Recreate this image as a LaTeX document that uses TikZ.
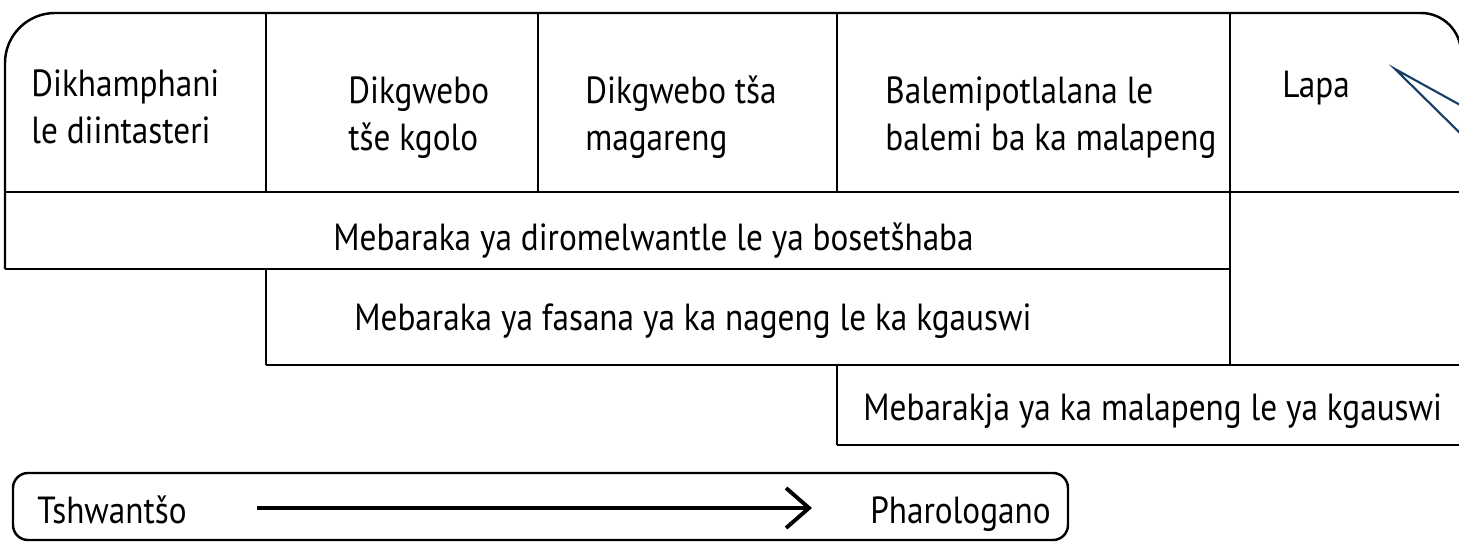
\documentclass[tikz,border=0pt]{standalone}
\usepackage{fontspec}
\setmainfont[FakeStretch=0.88]{PT Sans}
\usepackage{tikz}
\usetikzlibrary{arrows.meta}
\definecolor{pointerblue}{RGB}{20,62,102}
\tikzset{>=latex}
\tikzset{gridline/.style={line width=1.4pt},
  cell/.style={anchor=base west, inner sep=0pt, align=left,
    font=\fontsize{21.5}{26.5}\selectfont}}

\begin{document}
\begin{tikzpicture}[x=0.2mm,y=-0.2mm]
    \useasboundingbox (0,0) rectangle (1459,549);
    \clip (0,0) rectangle (1459,549);
    % table frame
    \draw[gridline] (5,269) -- (5,63) arc (180:270:50) -- (1421,13) arc (270:360:40) -- (1461,445);
    \draw[gridline] (5,192) -- (1461,192);
    \draw[gridline] (5,269) -- (1230,269);
    \draw[gridline] (266,365) -- (1461,365);
    \draw[gridline] (837,445) -- (1461,445);
    \draw[gridline] (266,13) -- (266,192);
    \draw[gridline] (266,269) -- (266,365);
    \draw[gridline] (538,13) -- (538,192);
    \draw[gridline] (837,13) -- (837,192);
    \draw[gridline] (837,365) -- (837,445);
    \draw[gridline] (1230,13) -- (1230,365);
    % top row (anchored on the last line)
    \node[cell] (industry) at (31,143) {Dikhamphani\\le diintasteri};
    \node[cell] (large) at (348,150) {Dikgwebo\\tše kgolo};
    \node[cell] (medium) at (585,150) {Dikgwebo tša\\magareng};
    \node[cell] (farmers) at (885,150) {Balemipotlalana le\\balemi ba ka malapeng};
    \node[cell] (home) at (1282,97) {Lapa};
    % markets
    \node[cell] (national) at (333,250) {Mebaraka ya diromelwantle le ya bosetšhaba};
    \node[cell] (regional) at (354,330) {Mebaraka ya fasana ya ka nageng le ka kgauswi};
    \node[cell] (local) at (863,420) {Mebarakja ya ka malapeng le ya kgauswi};
    % pointer
    \coordinate (tip) at (1395,69);
    \coordinate (upper) at (1462,106);
    \coordinate (lower) at (1462,135);
    \draw[pointerblue, line width=1.2pt] (upper) -- (tip) -- (lower);
    % legend
    \draw[gridline, rounded corners=3mm] (13,473) rectangle (1068,540);
    \node[cell] (picture) at (37,523) {Tshwantšo};
    \node[cell] (difference) at (870,523) {Pharologano};
    \coordinate (from) at (257,508);
    \coordinate (to) at (812,508);
    \draw[line width=2.2pt, -{Straight Barb[length=4.6mm, width=8mm]}] (from) -- (to);
\end{tikzpicture}
\end{document}
